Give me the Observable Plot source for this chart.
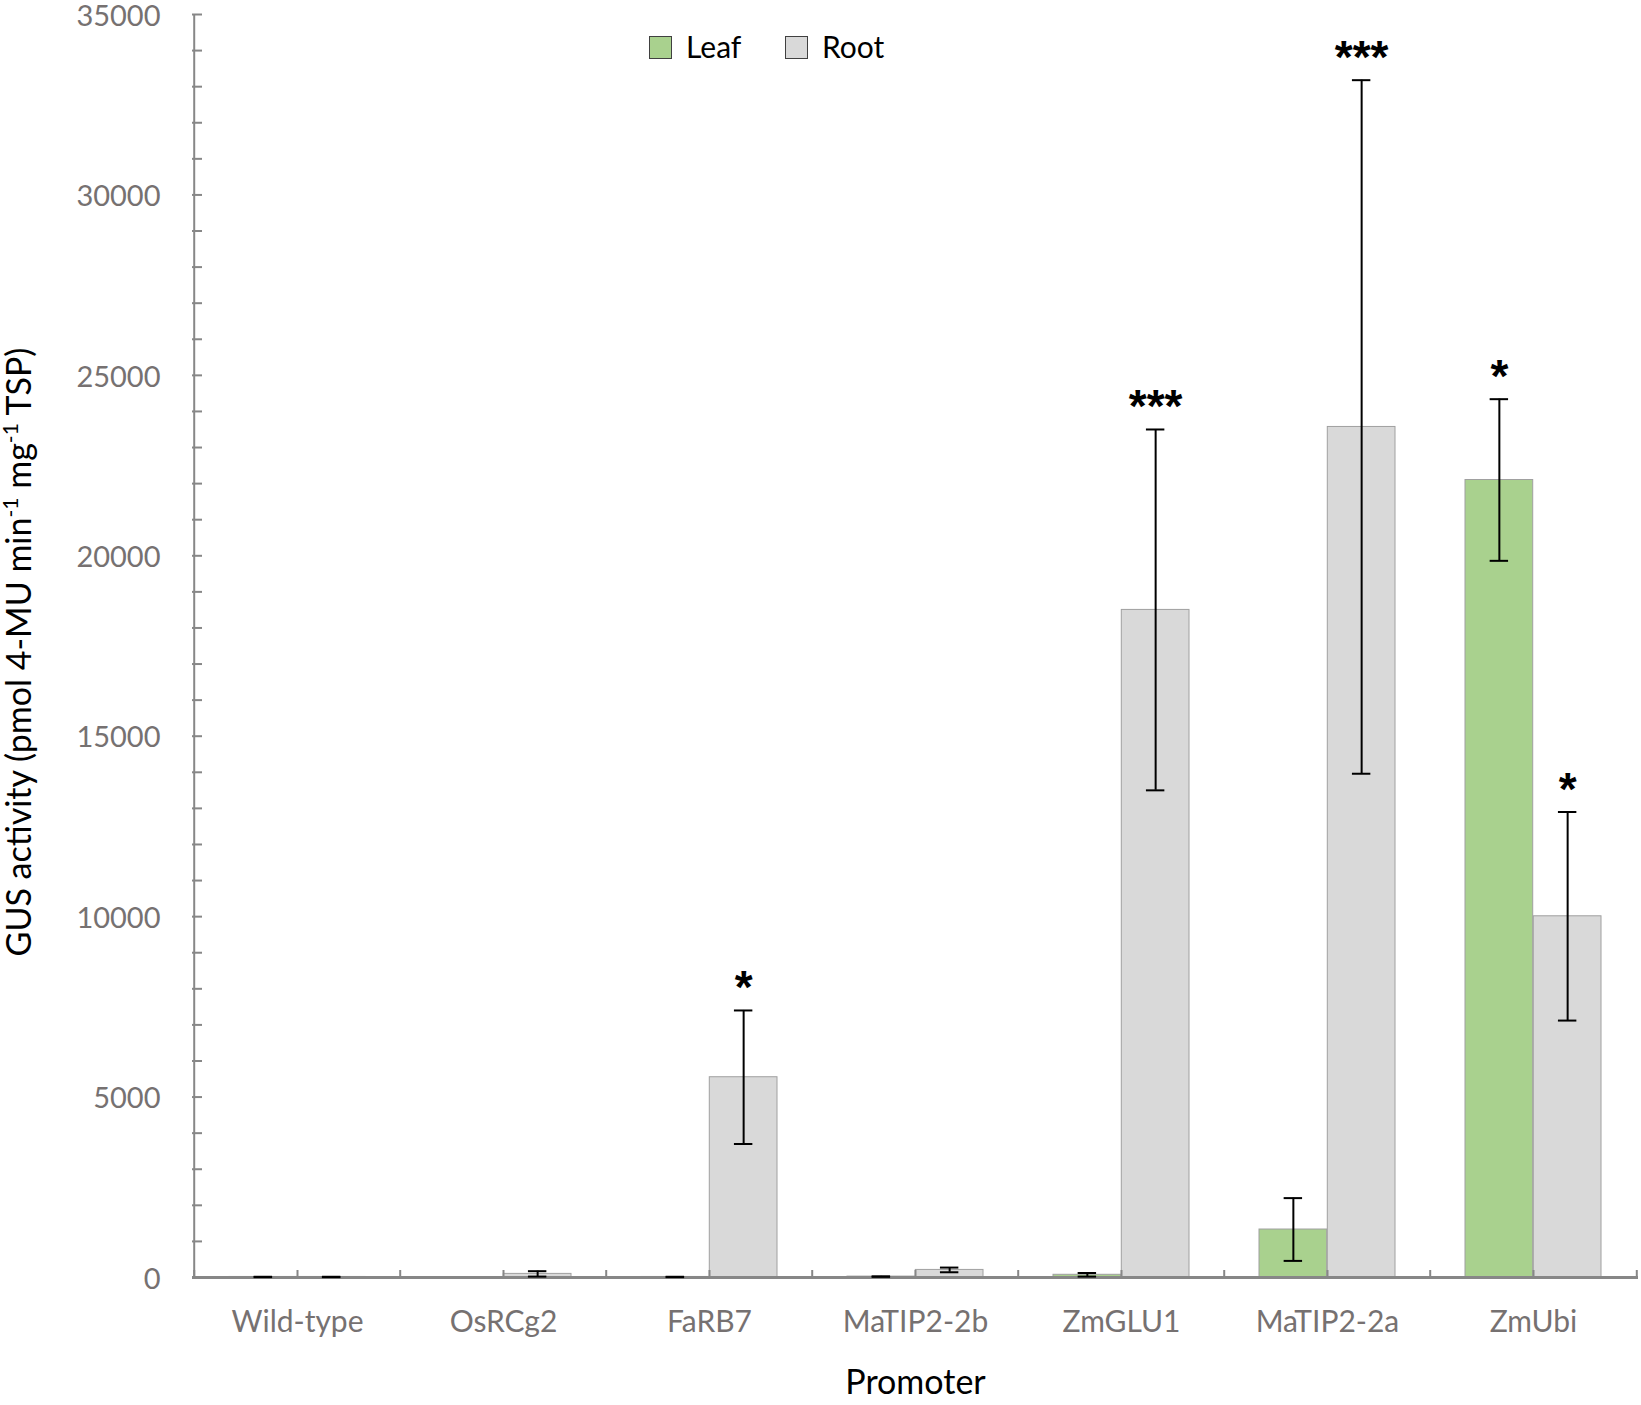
<!DOCTYPE html>
<html>
<head>
<meta charset="utf-8">
<script src="https://cdn.jsdelivr.net/npm/d3@7"></script>
<script src="https://cdn.jsdelivr.net/npm/@observablehq/plot@0.6"></script>
<style>
  html, body { margin: 0; padding: 0; background: #fff; }
  #chart svg { display: block; }
</style>
</head>
<body>
<div id="chart"></div>
<script>
// ---- data ----
const promoters = ["Wild-type", "OsRCg2", "FaRB7", "MaTIP2-2b", "ZmGLU1", "MaTIP2-2a", "ZmUbi"];
const tissues = ["Leaf", "Root"];
const leafMean = [15, 0, 15, 25, 75, 1330, 22100];
const leafErr  = [5, 0, 5, 5, 50, 870, 2240];
const rootMean = [15, 100, 5550, 210, 18500, 23570, 10010];
const rootErr  = [5, 75, 1850, 65, 5000, 9610, 2890];
const leafSig  = ["", "", "", "", "", "", "*"];
const rootSig  = ["", "", "*", "", "***", "***", "*"];
const yTicksMajor = [0, 5000, 10000, 15000, 20000, 25000, 30000, 35000];
const yTicksMinor = d3.range(0, 35001, 1000);

const leafData = promoters.map((p, i) => ({promoter: p, tissue: "Leaf", value: leafMean[i], err: leafErr[i], sig: leafSig[i]}));
const rootData = promoters.map((p, i) => ({promoter: p, tissue: "Root", value: rootMean[i], err: rootErr[i], sig: rootSig[i]}));

// ---- layout ----
const W = 1641, H = 1405;
const mL = 192, mR = 3, mT = 14, mB = 128;
const plotW = W - mL - mR, plotH = H - mT - mB;
const bw = plotW / promoters.length;
const outer = 35;             // gap between category edge and bar group
const half = bw / 2;
const off = (half - outer) / 2; // bar centre offset from category centre
const capW = 19;

const axisCol = "#878787";
const textCol = "#767171";
const leafCol = "#a9d18e";
const rootCol = "#d9d9d9";
const barStroke = "#a0a0a0";
const font = "Lato, 'Open Sans', sans-serif";

const chart = Plot.plot({
  width: W,
  height: H,
  marginLeft: mL,
  marginRight: mR,
  marginTop: mT,
  marginBottom: mB,
  style: {fontFamily: font, background: "#fff", overflow: "visible"},
  x: {type: "band", domain: promoters, padding: 0, axis: null},
  y: {domain: [0, 35000], axis: null},
  marks: [
    // bars
    Plot.barY(leafData.filter(d => d.value > 0), {x: "promoter", y: "value", fill: leafCol, stroke: barStroke, strokeWidth: 1, insetLeft: outer, insetRight: half}),
    Plot.barY(rootData.filter(d => d.value > 0), {x: "promoter", y: "value", fill: rootCol, stroke: barStroke, strokeWidth: 1, insetLeft: half, insetRight: outer}),
    // axes lines
    Plot.ruleY([0], {stroke: axisCol, strokeWidth: 3}),
    Plot.ruleX([promoters[0]], {x: d => d, dx: -half, stroke: axisCol, strokeWidth: 2}),
    // y ticks (inward)
    Plot.tickY(yTicksMinor, {y: d => d, stroke: axisCol, strokeWidth: 2, insetRight: plotW - 10}),
    // x ticks (inward) at boundaries and centres
    Plot.ruleX(promoters, {x: d => d, dx: -half, stroke: axisCol, strokeWidth: 2, insetTop: plotH - 7}),
    Plot.ruleX([promoters[promoters.length - 1]], {x: d => d, dx: half, stroke: axisCol, strokeWidth: 2, insetTop: plotH - 7}),
    Plot.ruleX(promoters, {x: d => d, stroke: axisCol, strokeWidth: 2, insetTop: plotH - 7}),
    // error bars
    Plot.ruleX(leafData.filter(d => d.value > 0), {x: "promoter", y1: d => d.value - d.err, y2: d => d.value + d.err, dx: -off, stroke: "#000", strokeWidth: 2}),
    Plot.ruleX(rootData.filter(d => d.value > 0), {x: "promoter", y1: d => d.value - d.err, y2: d => d.value + d.err, dx: off, stroke: "#000", strokeWidth: 2}),
    Plot.tickY(leafData.filter(d => d.value > 0), {x: "promoter", y: d => d.value + d.err, stroke: "#000", strokeWidth: 2, insetLeft: half - off - capW / 2, insetRight: bw - (half - off + capW / 2)}),
    Plot.tickY(leafData.filter(d => d.value > 0), {x: "promoter", y: d => d.value - d.err, stroke: "#000", strokeWidth: 2, insetLeft: half - off - capW / 2, insetRight: bw - (half - off + capW / 2)}),
    Plot.tickY(rootData.filter(d => d.value > 0), {x: "promoter", y: d => d.value + d.err, stroke: "#000", strokeWidth: 2, insetLeft: half + off - capW / 2, insetRight: bw - (half + off + capW / 2)}),
    Plot.tickY(rootData.filter(d => d.value > 0), {x: "promoter", y: d => d.value - d.err, stroke: "#000", strokeWidth: 2, insetLeft: half + off - capW / 2, insetRight: bw - (half + off + capW / 2)}),
    // significance stars
    Plot.text(leafData.filter(d => d.sig), {x: "promoter", y: d => d.value + d.err, text: "sig", dx: -off, dy: -22, fontSize: 46, fontWeight: "bold", fontFamily: "'Liberation Sans', Arial, sans-serif", fill: "#000"}),
    Plot.text(rootData.filter(d => d.sig), {x: "promoter", y: d => d.value + d.err, text: "sig", dx: off, dy: -22, fontSize: 46, fontWeight: "bold", fontFamily: "'Liberation Sans', Arial, sans-serif", fill: "#000"}),
    // axes labels
    Plot.axisY({ticks: yTicksMajor, tickSize: 0, tickPadding: 32, tickFormat: d => String(d), fontSize: 29, fill: textCol, label: null, dy: 2}),
    Plot.axisX({tickSize: 0, tickPadding: 33, fontSize: 30, fill: textCol, label: null}),
    Plot.text(["Promoter"], {frameAnchor: "bottom", lineAnchor: "middle", dy: 106, fontSize: 34, fill: "#000"})
  ]
});

document.getElementById("chart").appendChild(chart);

// y-axis title with superscripts
const svg = d3.select(chart);
const yl = svg.append("text")
  .attr("transform", `translate(31, ${652}) rotate(-90)`)
  .attr("text-anchor", "middle")
  .attr("font-family", font)
  .attr("font-size", 34)
  .attr("fill", "#000");
yl.append("tspan").text("GUS activity (pmol 4-MU min");
yl.append("tspan").attr("dy", -13).attr("font-size", 21).text("-1");
yl.append("tspan").attr("dy", 13).text(" mg");
yl.append("tspan").attr("dy", -13).attr("font-size", 21).text("-1");
yl.append("tspan").attr("dy", 13).text(" TSP)");

// legend
const legend = svg.append("g").attr("font-family", font).attr("font-size", 30).attr("text-anchor", "start");
const legItems = [{label: tissues[0], color: leafCol, x: 649}, {label: tissues[1], color: rootCol, x: 785}];
legItems.forEach(it => {
  legend.append("rect").attr("x", it.x + 0.5).attr("y", 36.5).attr("width", 22).attr("height", 22)
    .attr("fill", it.color).attr("stroke", "#404040").attr("stroke-width", 1);
  legend.append("text").attr("x", it.x + 37).attr("y", 58).attr("fill", "#000").attr("text-anchor", "start").text(it.label);
});
</script>
</body>
</html>
